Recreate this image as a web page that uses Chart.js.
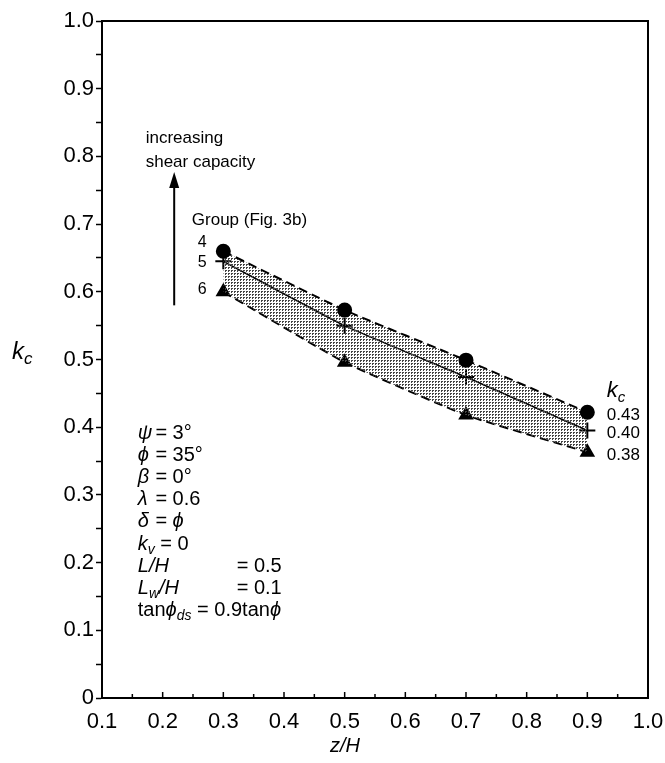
<!DOCTYPE html>
<html>
<head>
<meta charset="utf-8">
<script src="https://cdn.jsdelivr.net/npm/chart.js@4.4.0/dist/chart.umd.min.js"></script>
<style>
  html, body { margin: 0; padding: 0; background: #fff; }
</style>
</head>
<body>
<canvas id="myChart" width="665" height="763"></canvas>
<script>
// values
const zH = [0.3, 0.5, 0.7, 0.9]
const group4 = [0.66, 0.573, 0.499, 0.422]   // circles (upper bound)
const group5 = [0.645, 0.55, 0.474, 0.395]   // crosses (middle)
const group6 = [0.60, 0.496, 0.418, 0.363]   // triangles (lower bound)
const endLabels = ['0.43', '0.40', '0.38']
const xTickLabels = ['0.1', '0.2', '0.3', '0.4', '0.5', '0.6', '0.7', '0.8', '0.9', '1.0']
const yTickLabels = ['0', '0.1', '0.2', '0.3', '0.4', '0.5', '0.6', '0.7', '0.8', '0.9', '1.0']

const FONT = '"Liberation Sans", Arial, Helvetica, sans-serif'

const ctx = document.getElementById('myChart').getContext('2d')

// halftone dots for the shaded band
function dotPattern() {
  const c = document.createElement('canvas')
  c.width = 3; c.height = 3
  const g = c.getContext('2d')
  g.fillStyle = '#444'
  g.fillRect(0, 0, 2, 1)
  g.fillRect(0, 1, 1, 1)
  return ctx.createPattern(c, 'repeat')
}
const band = dotPattern()

function tickText(list, start) {
  return (v) => {
    const i = Math.round((v - start) * 10)
    return Math.abs(v - (start + i / 10)) < 1e-6 ? list[i] : ''
  }
}

// draw a line of mixed roman/italic/subscript text
function runs(c, x, y, parts, size) {
  parts.forEach(p => {
    const s = p.sub ? Math.round(size * 0.7) : size
    c.font = (p.it ? 'italic ' : '') + s + 'px ' + FONT
    if (p.at != null) x = p.at
    c.fillText(p.t, x, y + (p.sub ? size * 0.3 : 0))
    x += c.measureText(p.t).width
  })
}

const paramLines = [
  [{ t: 'ψ', it: 1 }, { t: '= 3°', eq: 1 }],
  [{ t: 'ϕ', it: 1 }, { t: '= 35°', eq: 1 }],
  [{ t: 'β', it: 1 }, { t: '= 0°', eq: 1 }],
  [{ t: 'λ', it: 1 }, { t: '= 0.6', eq: 1 }],
  [{ t: 'δ', it: 1 }, { t: '= ', eq: 1 }, { t: 'ϕ', it: 1 }],
  [{ t: 'k', it: 1 }, { t: 'v', it: 1, sub: 1 }, { t: ' = 0' }],
  [{ t: 'L/H', it: 1 }, { t: '= 0.5', eq: 2 }],
  [{ t: 'L', it: 1 }, { t: 'w', it: 1, sub: 1 }, { t: '/H', it: 1 }, { t: '= 0.1', eq: 2 }],
  [{ t: 'tan' }, { t: 'ϕ', it: 1 }, { t: 'ds', it: 1, sub: 1 }, { t: ' = 0.9tan' }, { t: 'ϕ', it: 1 }],
]

const annotations = {
  id: 'annotations',
  afterDraw(chart) {
    const c = chart.ctx
    const xs = chart.scales.x, ys = chart.scales.y
    const X = v => xs.getPixelForValue(v), Y = v => ys.getPixelForValue(v)
    const a = chart.chartArea
    c.save()
    c.strokeStyle = '#000'
    c.fillStyle = '#000'

    // frame
    c.lineWidth = 2
    c.strokeRect(a.left, a.top, a.right - a.left, a.bottom - a.top)

    // inward ticks on the bottom axis
    c.lineWidth = 1.5
    xs.ticks.forEach(t => {
      const px = X(t.value)
      const major = t.label !== ''
      c.beginPath()
      c.moveTo(px, a.bottom)
      c.lineTo(px, a.bottom - (major ? 6 : 4))
      c.stroke()
    })

    // axis titles
    c.textBaseline = 'middle'
    c.textAlign = 'left'
    runs(c, 12, 352, [{ t: 'k', it: 1 }, { t: 'c', it: 1, sub: 1 }], 24)
    runs(c, 330, 746, [{ t: 'z/H', it: 1 }], 20)

    // arrow: increasing shear capacity
    const ax = X(0.219), ay0 = Y(0.58), ay1 = Y(0.777)
    c.lineWidth = 2
    c.beginPath(); c.moveTo(ax, ay0); c.lineTo(ax, ay1 + 12); c.stroke()
    c.beginPath(); c.moveTo(ax, ay1); c.lineTo(ax - 5, ay1 + 16); c.lineTo(ax + 5, ay1 + 16); c.closePath(); c.fill()
    runs(c, X(0.172), Y(0.826), [{ t: 'increasing' }], 17)
    runs(c, X(0.172), Y(0.792), [{ t: 'shear capacity' }], 17)
    runs(c, X(0.248), Y(0.706), [{ t: 'Group (Fig. 3b)' }], 17)

    c.textAlign = 'center'
    ;[['4', 0.672], ['5', 0.643], ['6', 0.603]].forEach(([t, v]) => {
      runs(c, X(0.265), Y(v), [{ t }], 16)
    })
    c.textAlign = 'left'

    // end labels on the right
    runs(c, X(0.932), Y(0.453), [{ t: 'k', it: 1 }, { t: 'c', it: 1, sub: 1 }], 22)
    ;[0.418, 0.391, 0.359].forEach((v, i) => runs(c, X(0.932), Y(v), [{ t: endLabels[i] }], 17))

    // parameter list
    const x0 = X(0.159)
    const eqX = [null, X(0.188), X(0.322)]
    paramLines.forEach((line, i) => {
      const parts = line.map(p => Object.assign({}, p, p.eq ? { at: eqX[p.eq] } : {}))
      runs(c, x0, 433 + i * 22.2, parts, 20)
    })
    c.restore()
  }
}

const myChart = new Chart(ctx, {
  type: 'line',
  data: {
    datasets: [
      {
        label: '4',
        data: zH.map((x, i) => ({ x, y: group4[i] })),
        borderColor: '#000',
        borderWidth: 2,
        borderDash: [9, 5],
        pointStyle: 'circle',
        pointRadius: 6.5,
        pointBackgroundColor: '#000',
        pointBorderColor: '#000',
        fill: { target: 2, above: band, below: band },
        tension: 0.15,
      },
      {
        label: '5',
        data: zH.map((x, i) => ({ x, y: group5[i] })),
        borderColor: '#000',
        borderWidth: 1.6,
        pointStyle: 'cross',
        pointRadius: 8,
        pointBorderWidth: 2,
        pointBorderColor: '#000',
        fill: false,
        tension: 0.15,
      },
      {
        label: '6',
        data: zH.map((x, i) => ({ x, y: group6[i] })),
        borderColor: '#000',
        borderWidth: 2,
        borderDash: [9, 5],
        pointStyle: 'triangle',
        pointRadius: 7,
        pointBackgroundColor: '#000',
        pointBorderColor: '#000',
        fill: false,
        tension: 0.15,
      },
    ]
  },
  options: {
    responsive: false,
    animation: false,
    layout: { padding: { top: 21, right: 17, left: 0, bottom: 0 } },
    plugins: {
      legend: { display: false },
      tooltip: { enabled: false },
    },
    scales: {
      x: {
        type: 'linear',
        min: 0.1,
        max: 1.0,
        afterFit: s => { s.height = 65; s.paddingLeft = 0; s.paddingRight = 0 },
        grid: { drawOnChartArea: false, drawTicks: false },
        border: { color: '#000', width: 2 },
        ticks: {
          stepSize: 0.05,
          autoSkip: false,
          maxRotation: 0,
          padding: 11,
          color: '#000',
          font: { family: FONT, size: 22 },
          callback: tickText(xTickLabels, 0.1),
        },
      },
      y: {
        type: 'linear',
        min: 0,
        max: 1.0,
        afterFit: s => { s.width = 102; s.paddingTop = 0; s.paddingBottom = 0 },
        grid: { drawOnChartArea: false, tickLength: 6, color: '#000', tickWidth: 1.5 },
        border: { color: '#000', width: 2 },
        ticks: {
          stepSize: 0.05,
          autoSkip: false,
          padding: 2,
          color: '#000',
          font: { family: FONT, size: 22 },
          callback: tickText(yTickLabels, 0),
        },
      },
    },
  },
  plugins: [annotations],
})
</script>
</body>
</html>
